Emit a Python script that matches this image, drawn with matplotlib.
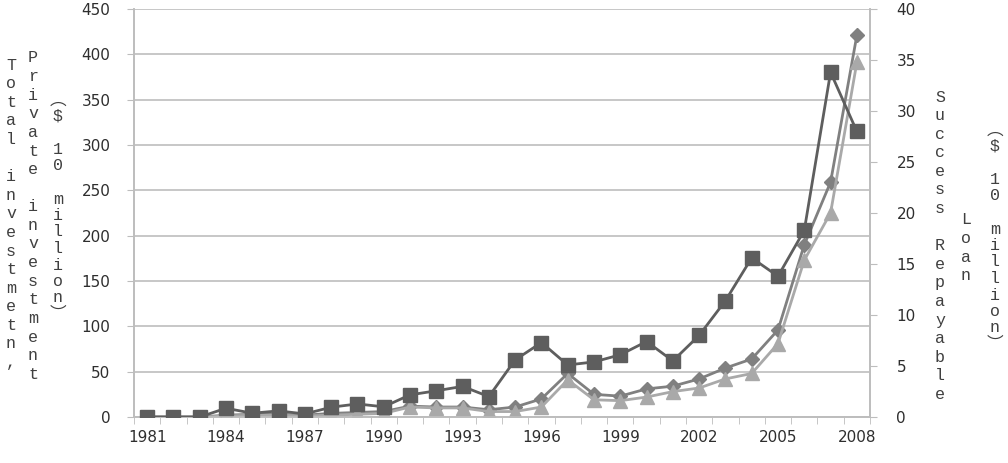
import matplotlib
matplotlib.use("Agg")
import matplotlib.pyplot as plt
import numpy as np

# ---- data -------------------------------------------------------------------
years = list(range(1981, 2009))
total_inv = [0, 0, 0, 2, 3, 3, 2, 4, 5, 6, 12, 11, 11, 8, 11, 20, 48, 25, 23, 31,
             34, 42, 54, 64, 96, 190, 259, 421]          # left axis, diamonds
private_inv = [0, 0, 0, 1, 2, 2, 1, 2, 3, 4, 11, 10, 10, 6, 6, 11, 41, 19, 18, 22,
               28, 32, 42, 48, 81, 173, 225, 391]        # left axis, triangles
loan = [0, 0, 0, 0.86, 0.37, 0.6, 0.3, 0.96, 1.28, 1.0, 2.17, 2.57, 3.0, 2.0, 5.6,
        7.3, 5.1, 5.4, 6.1, 7.4, 5.5, 8.0, 11.4, 15.6, 13.8, 18.3, 33.8, 28.0]  # right axis, squares
left_ticks = list(range(0, 451, 50))
right_ticks = list(range(0, 41, 5))
label_years = years[::3]

# ---- style ------------------------------------------------------------------
DARK, MID, LIGHT, GRID, INK = "#5e5e5e", "#808080", "#a9a9a9", "#bdbdbd", "#2e2e2e"
TXT = "#404040"

fig = plt.figure(figsize=(10.08, 4.63), dpi=100)
ax = fig.add_axes([134 / 1008, 46 / 463, 736 / 1008, 408 / 463])
ax2 = ax.twinx()

x = np.arange(len(years))
ax.plot(x, total_inv, "-D", color=MID, lw=2.0, ms=7, zorder=3)
ax.plot(x, private_inv, "-^", color=LIGHT, lw=2.0, ms=10, zorder=4)
ax2.plot(x, loan, "-s", color=DARK, lw=2.0, ms=10.5, zorder=5)

ax.set_xlim(-0.5, len(years) - 0.5)
ax.set_ylim(0, 450)
ax2.set_ylim(0, 40)
ax.set_yticks(left_ticks)
ax2.set_yticks(right_ticks)
ax.set_xticks([years.index(y) for y in label_years])
ax.set_xticklabels([str(y) for y in label_years])
ax.set_xticks(np.arange(-0.5, len(years), 1.0), minor=True)
ax.tick_params(axis="x", which="major", length=0, pad=9)
ax.tick_params(axis="x", which="minor", length=5, color=GRID, direction="out")
ax.tick_params(axis="y", length=5, color=GRID, pad=12)
ax2.tick_params(axis="y", length=5, color=GRID, pad=14)
for a in (ax, ax2):
    for t in a.get_xticklabels() + a.get_yticklabels():
        t.set_fontsize(11)
        t.set_color(INK)

ax.yaxis.grid(True, color=GRID, lw=1.2)
ax.set_axisbelow(True)
for a in (ax, ax2):
    a.spines["top"].set_visible(False)
    for s in ("left", "right", "bottom"):
        a.spines[s].set_color(GRID)
        a.spines[s].set_linewidth(1.2)


# ---- stacked (vertical) axis titles ----------------------------------------
def vtext(xpx, ypx, s, step=18.6):
    for i, ch in enumerate(s):
        if ch == " ":
            continue
        fig.text(xpx / 1008, 1 - (ypx + i * step) / 463, ch, ha="center", va="center",
                 fontsize=12, color=TXT,
                 family=["Liberation Mono", "Noto Sans CJK JP", "DejaVu Sans"])


vtext(11, 65, "Total investmetn,")
vtext(33, 58, "Private investment")
vtext(58, 100, "︵$ 10 million︶", step=16.5)
vtext(940, 97, "Success Repayable")
vtext(966, 220, "Loan")
vtext(995, 130, "︵$ 10 million︶", step=16.5)

fig.savefig("out.png", dpi=100)
